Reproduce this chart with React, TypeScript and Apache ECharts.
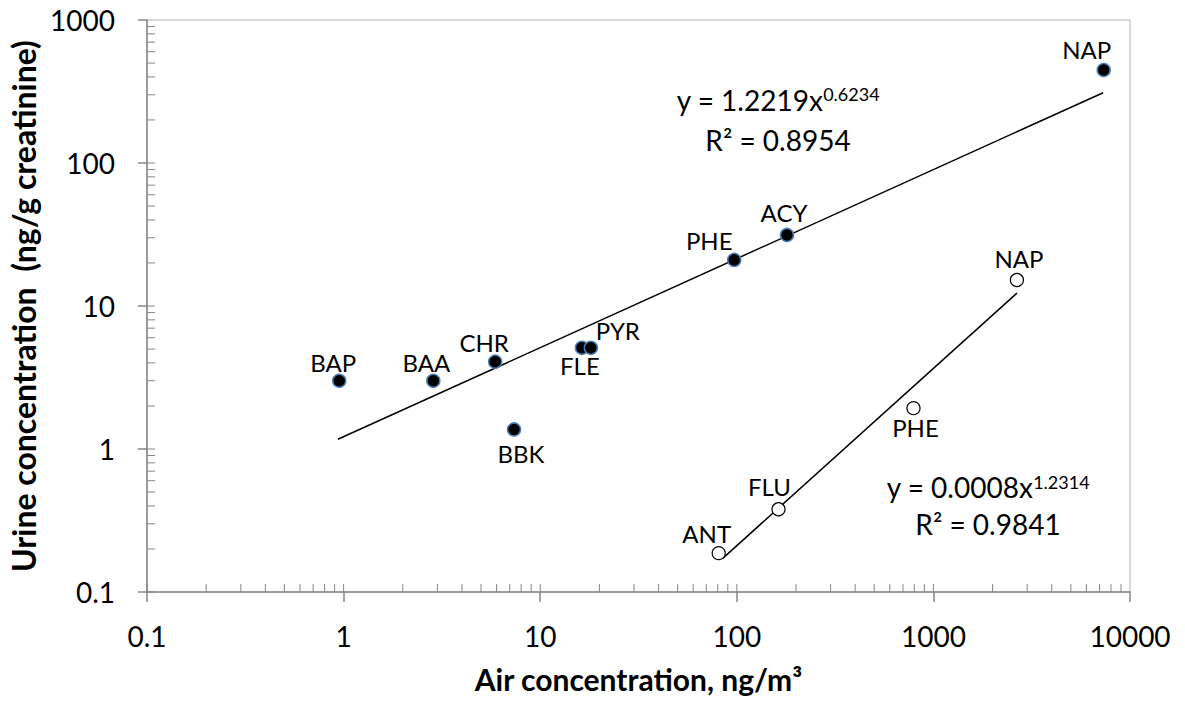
import React, { useEffect, useRef } from "react";
import * as echarts from "echarts";

// ---- data ----
const filledNames = ["BAP", "BAA", "CHR", "BBK", "FLE", "PYR", "PHE", "ACY", "NAP"];
const filledAir = [0.95, 2.86, 5.9, 7.36, 16.3, 18.1, 97, 180, 7350];
const filledUrine = [3.0, 3.0, 4.08, 1.37, 5.1, 5.1, 21.0, 31.4, 447];

const openNames = ["ANT", "FLU", "PHE", "NAP"];
const openAir = [80.9, 163, 792, 2660];
const openUrine = [0.187, 0.379, 1.93, 15.2];

// trend line end points (as drawn)
const trend1Air = [0.935, 7300];
const trend1Urine = [1.17, 310];
const trend2Air = [84.8, 2660];
const trend2Urine = [0.172, 12.3];

const eq1 = ["y = 1.2219x", "0.6234", "R² = 0.8954"];
const eq2 = ["y = 0.0008x", "1.2314", "R² = 0.9841"];

const xTitle = "Air concentration, ng/m³";
const yTitle = "Urine concentration  (ng/g creatinine)";

// label offsets (styling, px relative to the marker centre)
const filledLabelOffsets = [
  [-6, -18], [-7, -18], [-11, -19], [7, 24], [-2, 18], [27, -17], [-25, -19], [-3, -22], [-17, -21],
];
const openLabelOffsets = [[-12, -20], [-9, -23], [2, 19], [2, -21]];

const FONT = "Lato";

function minorTickData(minExp: number, maxExp: number, kind: number) {
  const out: number[][] = [];
  for (let e = minExp; e < maxExp; e++) {
    for (let m = 1; m <= 9; m++) {
      const v = Number((m * Math.pow(10, e)).toPrecision(3));
      if (kind === 0) out.push([v, 0.1, 0]);
      else out.push([0.1, v, 1]);
    }
  }
  return out;
}

export default function App() {
  const ref = useRef<HTMLDivElement>(null);
  useEffect(() => {
    if (!ref.current) return;
    const chart = echarts.init(ref.current, undefined, { renderer: "svg" });
    const axisColor = "#868686";
    const fmt = (v: number) => (v >= 1 ? String(Math.round(v)) : String(Number(v.toPrecision(1))));
    const tickData = [...minorTickData(-1, 4, 0), ...minorTickData(-1, 3, 1)];

    const eqRich = (lh: number) => ({
      m: { fontFamily: FONT, fontSize: 28, lineHeight: lh, fill: "#000" },
      s: { fontFamily: FONT, fontSize: 18, verticalAlign: "top", padding: [5, 0, 0, 0], fill: "#000" },
    });

    const option: any = {
      animation: false,
      backgroundColor: "#fff",
      grid: {
        left: 147,
        right: 55,
        top: 20,
        bottom: 110,
        outerBoundsMode: "none",
        containLabel: false,
        show: true,
        borderColor: "#b3b3b3",
        borderWidth: 1,
        backgroundColor: "transparent",
      },
      xAxis: {
        type: "log",
        logBase: 10,
        min: 0.1,
        max: 10000,
        axisLine: { show: true, lineStyle: { color: axisColor, width: 1.5 } },
        axisTick: { show: true, inside: false, length: 10, lineStyle: { color: axisColor, width: 1.5 } },
        minorTick: { show: false },
        splitLine: { show: false },
        axisLabel: { fontFamily: FONT, fontSize: 28, color: "#000", margin: 30, formatter: fmt },
        name: xTitle,
        nameLocation: "middle",
        nameGap: 72,
        nameTextStyle: { fontFamily: FONT, fontWeight: "bold", fontSize: 30, lineHeight: 30, color: "#000" },
      },
      yAxis: {
        type: "log",
        logBase: 10,
        min: 0.1,
        max: 1000,
        axisLine: { show: true, lineStyle: { color: axisColor, width: 1.5 } },
        axisTick: { show: true, inside: false, length: 9, lineStyle: { color: axisColor, width: 1.5 } },
        minorTick: { show: false },
        splitLine: { show: false },
        axisLabel: { fontFamily: FONT, fontSize: 28, color: "#000", margin: 32, formatter: fmt },
        name: yTitle,
        nameLocation: "middle",
        nameGap: 106,
        nameTextStyle: {
          fontFamily: FONT,
          fontWeight: "bold",
          fontSize: 32,
          color: "#000",
        },
      },
      series: [
        {
          type: "custom",
          silent: true,
          z: 1,
          data: tickData,
          renderItem: (params: any, api: any) => {
            const kind = api.value(2);
            const p = api.coord([api.value(0), api.value(1)]);
            return {
              type: "line",
              shape: {
                x1: p[0],
                y1: p[1],
                x2: kind === 0 ? p[0] : p[0] + 8,
                y2: kind === 0 ? p[1] - 8 : p[1],
              },
              style: { stroke: axisColor, lineWidth: 1 },
            };
          },
        },
        {
          type: "line",
          silent: true,
          symbol: "none",
          z: 2,
          lineStyle: { color: "#000", width: 1.5 },
          data: trend1Air.map((x, i) => [x, trend1Urine[i]]),
        },
        {
          type: "line",
          silent: true,
          symbol: "none",
          z: 2,
          lineStyle: { color: "#000", width: 1.5 },
          data: trend2Air.map((x, i) => [x, trend2Urine[i]]),
        },
        {
          type: "scatter",
          z: 3,
          symbol: "circle",
          symbolSize: 13,
          itemStyle: { color: "#000", borderColor: "#4a7ebb", borderWidth: 1.5, opacity: 1 },
          data: filledAir.map((x, i) => ({
            value: [x, filledUrine[i]],
            name: filledNames[i],
            label: {
              show: true,
              position: "inside",
              offset: filledLabelOffsets[i],
              formatter: filledNames[i],
              fontFamily: FONT,
              fontSize: 24,
              color: "#000",
            },
          })),
        },
        {
          type: "scatter",
          z: 3,
          symbol: "circle",
          symbolSize: 13,
          itemStyle: { color: "#fff", borderColor: "#000", borderWidth: 1.2, opacity: 1 },
          data: openAir.map((x, i) => ({
            value: [x, openUrine[i]],
            name: openNames[i],
            label: {
              show: true,
              position: "inside",
              offset: openLabelOffsets[i],
              formatter: openNames[i],
              fontFamily: FONT,
              fontSize: 24,
              color: "#000",
            },
          })),
        },
      ],
      graphic: [
        {
          type: "text",
          x: 778,
          y: 120,
          style: {
            text: `{m|${eq1[0]}}{s|${eq1[1]}}\n{m|${eq1[2]}}`,
            align: "center",
            verticalAlign: "middle",
            rich: eqRich(40),
          },
        },
        {
          type: "text",
          x: 988,
          y: 505,
          style: {
            text: `{m|${eq2[0]}}{s|${eq2[1]}}\n{m|${eq2[2]}}`,
            align: "center",
            verticalAlign: "middle",
            rich: eqRich(37),
          },
        },
      ],
    };
    chart.setOption(option);
    return () => chart.dispose();
  }, []);
  return (
    <div
      ref={ref}
      style={{ position: "absolute", left: 0, top: 0, width: 1185, height: 702, background: "#fff" }}
    />
  );
}
